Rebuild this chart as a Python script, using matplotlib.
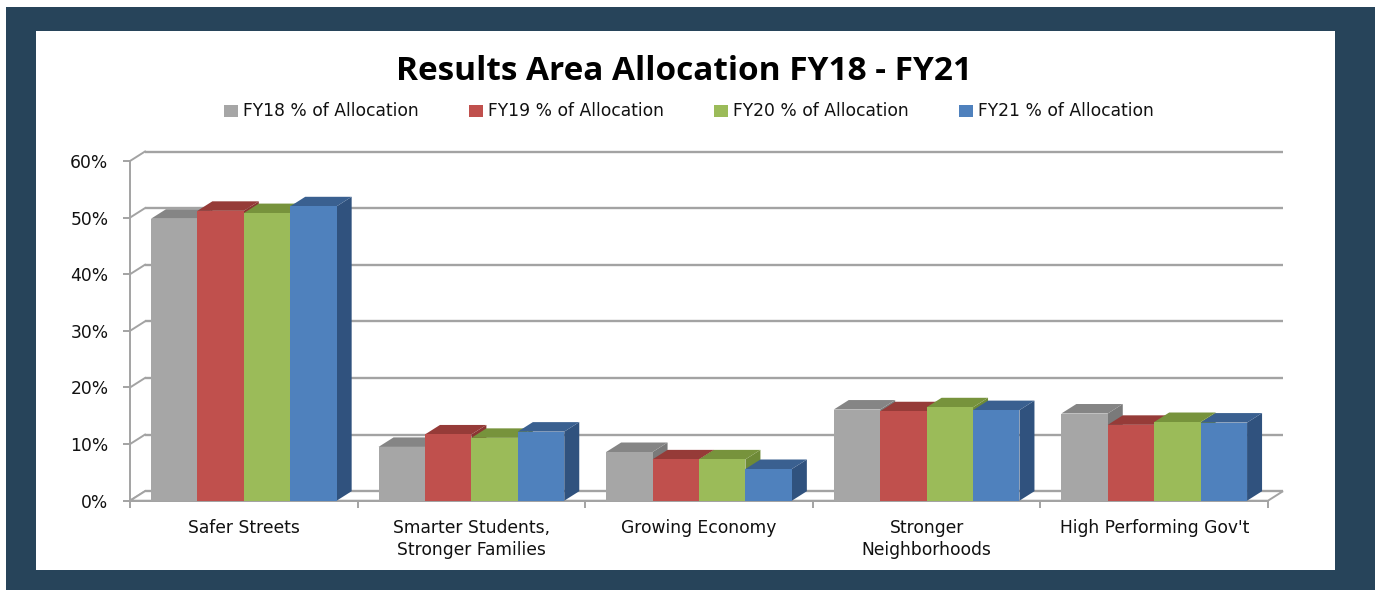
import matplotlib
matplotlib.use("Agg")
import matplotlib.pyplot as plt
from matplotlib.patches import Polygon, Rectangle, Patch
import numpy as np

# ---------------- data ----------------
categories = ["Safer Streets", "Smarter Students,\nStronger Families", "Growing Economy",
              "Stronger\nNeighborhoods", "High Performing Gov't"]
series_names = ["FY18 % of Allocation", "FY19 % of Allocation",
                "FY20 % of Allocation", "FY21 % of Allocation"]
fy18 = [49.8, 9.5, 8.6, 16.1, 15.4]
fy19 = [51.2, 11.7, 7.3, 15.8, 13.4]
fy20 = [50.8, 11.1, 7.3, 16.5, 13.9]
fy21 = [52.0, 12.2, 5.6, 16.0, 13.8]
series = [fy18, fy19, fy20, fy21]
yticks = [0, 10, 20, 30, 40, 50, 60]
ytick_labels = ["0%", "10%", "20%", "30%", "40%", "50%", "60%"]
title = "Results Area Allocation FY18 - FY21"

# ---------------- styles ----------------
front_cols = ["#A6A6A6", "#C0504D", "#9BBB59", "#4F81BD"]
top_cols = ["#858585", "#963B38", "#77933C", "#3A6090"]
side_cols = ["#7A7A7A", "#8A3532", "#6E8A37", "#30527E"]
navy = "#27445A"
grid_col = "#A3A3A3"
font = "DejaVu Sans"
tfont = "Open Sans"
fs = 12.3

W, H = 1381, 590
fig = plt.figure(figsize=(W / 100, H / 100), dpi=100)
fig.patch.set_facecolor("white")

def px_rect(x0, y0, x1, y1, color):
    fig.patches.append(Rectangle((x0 / W, 1 - y1 / H), (x1 - x0) / W, (y1 - y0) / H,
                                 transform=fig.transFigure, facecolor=color,
                                 edgecolor="none", zorder=-10))

px_rect(6, 7, 1375, 590, navy)
px_rect(36, 31, 1335, 570, "white")

# front plane axes: pixels x 130..1268, y 161..500.7
ax_l, ax_r, ax_t, ax_b = 130, 1268, 161, 500.7
ax = fig.add_axes([ax_l / W, 1 - ax_b / H, (ax_r - ax_l) / W, (ax_b - ax_t) / H])
ax.set_facecolor("none")
ncat = len(categories)
ax.set_xlim(0, ncat)
ax.set_ylim(0, 60)

# 3D depth offsets in data units
px_per_x = (ax_r - ax_l) / ncat
px_per_y = (ax_b - ax_t) / 60
dx = 15 / px_per_x
dy = 9.5 / px_per_y

# back wall gridlines + left wall diagonals
for v in yticks:
    ax.plot([dx, ncat + dx], [v + dy, v + dy], color=grid_col, lw=1.7, clip_on=False, zorder=1,
            solid_capstyle="butt")
    ax.plot([0, dx], [v, v + dy], color=grid_col, lw=1.4, clip_on=False, zorder=1)

# floor
floor = Polygon([(0, 0), (ncat, 0), (ncat + dx, dy), (dx, dy)], closed=True,
                facecolor="white", edgecolor=grid_col, lw=1.4, clip_on=False, zorder=2)
ax.add_patch(floor)

# bars
w = 0.204
nser = len(series)
z = 3
for c in range(ncat):
    for i in range(nser):
        v = series[i][c]
        x0 = c + 0.5 - nser * w / 2 + i * w
        x1 = x0 + w
        front = Polygon([(x0, 0), (x1, 0), (x1, v), (x0, v)], closed=True,
                        facecolor=front_cols[i], edgecolor="none", clip_on=False, zorder=z)
        top = Polygon([(x0, v), (x1, v), (x1 + dx, v + dy), (x0 + dx, v + dy)], closed=True,
                      facecolor=top_cols[i], edgecolor="none", clip_on=False, zorder=z)
        side = Polygon([(x1, 0), (x1 + dx, dy), (x1 + dx, v + dy), (x1, v)], closed=True,
                       facecolor=side_cols[i], edgecolor="none", clip_on=False, zorder=z)
        ax.add_patch(side)
        ax.add_patch(top)
        ax.add_patch(front)
        z += 1

# axes spines and ticks
for s in ["top", "right"]:
    ax.spines[s].set_visible(False)
for s in ["left", "bottom"]:
    ax.spines[s].set_color(grid_col)
    ax.spines[s].set_linewidth(1.4)
    ax.spines[s].set_zorder(2.5)
ax.set_yticks(yticks)
ax.set_yticklabels(ytick_labels, fontfamily=font, fontsize=fs, color="#111111")
ax.tick_params(axis="y", length=5, width=1.4, color=grid_col, pad=10.5)
ax.set_xticks(np.arange(ncat) + 0.5)
ax.set_xticklabels(categories, fontfamily=font, fontsize=fs, color="#111111",
                   linespacing=1.3)
ax.tick_params(axis="x", which="major", length=0, pad=13)
ax.set_xticks(np.arange(ncat + 1), minor=True)
ax.tick_params(axis="x", which="minor", length=5, width=1.4, color=grid_col)

# title
fig.text(684 / W, 1 - 80 / H, title, ha="center", va="baseline", fontfamily=tfont,
         fontweight="bold", fontsize=24, color="black")

# legend
handles = [Patch(facecolor=front_cols[i], edgecolor="none") for i in range(nser)]
leg = fig.legend(handles, series_names, loc="center", bbox_to_anchor=(689 / W, 1 - 111.5 / H),
                 ncol=4, frameon=False, handlelength=0.8, handleheight=0.7,
                 handletextpad=0.3, columnspacing=2.95,
                 prop={"family": font, "size": fs})
for t in leg.get_texts():
    t.set_color("#111111")

fig.savefig("out.png", dpi=100, facecolor="white")
